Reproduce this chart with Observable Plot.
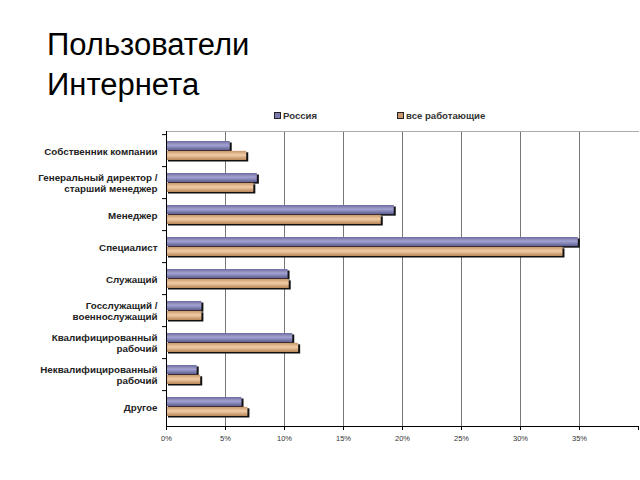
<!DOCTYPE html>
<html>
<head>
<meta charset="utf-8">
<script src="https://cdn.jsdelivr.net/npm/d3@7"></script>
<script src="https://cdn.jsdelivr.net/npm/@observablehq/plot@0.6"></script>
<style>
  html, body { margin: 0; padding: 0; background: #fff; width: 640px; height: 480px; overflow: hidden; }
  #title { position: absolute; left: 47px; top: 25px; font-family: "Liberation Sans", Arial, sans-serif; font-size: 31px; line-height: 40px; color: #000; }
  #legend { position: absolute; top: 110px; left: 0; width: 640px; height: 14px; font-family: "Liberation Sans", Arial, sans-serif; font-size: 9.6px; font-weight: bold; color: #333; }
  .li { position: absolute; display: flex; align-items: center; gap: 2px; }
  .sw { width: 5px; height: 5px; border: 1px solid #222; display: inline-block; }
  #chart { position: absolute; left: 0; top: 105px; }
</style>
</head>
<body>
<div id="title">Пользователи<br>Интернета</div>
<div id="legend"></div>
<div id="chart"></div>
<script>
const categories = [
  "Собственник компании",
  "Генеральный директор /\nстарший менеджер",
  "Менеджер",
  "Специалист",
  "Служащий",
  "Госслужащий /\nвоеннослужащий",
  "Квалифицированный\nрабочий",
  "Неквалифицированный\nрабочий",
  "Другое"
];
const seriesNames = ["Россия", "все работающие"];
const russia = [5.4, 7.7, 19.3, 34.9, 10.3, 3.0, 10.7, 2.6, 6.4];
const allWorking = [6.8, 7.4, 18.2, 33.6, 10.4, 3.0, 11.2, 2.9, 6.9];
const xTicks = [0, 5, 10, 15, 20, 25, 30, 35];
const gridTicks = [5, 10, 15, 20, 25, 30, 35];

const dataR = categories.map((c, i) => ({category: c, value: russia[i]}));
const dataA = categories.map((c, i) => ({category: c, value: allWorking[i]}));

const H = 375, marginTop = 26, marginBottom = 54;
const n = categories.length;
const step = (H - marginTop - marginBottom) / n;
const pIn = 0.4;
const bw = step * (1 - pIn);
const half = bw / 2;

const font = "Liberation Sans, Arial, sans-serif";

const chart = Plot.plot({
  width: 640,
  height: H,
  marginTop,
  marginBottom,
  marginLeft: 166,
  marginRight: 2,
  style: {fontFamily: font, background: "transparent"},
  x: {domain: [0, 40], axis: null, label: null},
  y: {domain: categories, paddingInner: pIn, paddingOuter: pIn / 2, axis: null, label: null},
  marks: [
    Plot.ruleX(gridTicks, {stroke: "#777", strokeWidth: 1}),
    Plot.frame({anchor: "top", stroke: "#aaa"}),
    Plot.barX(dataR, {y: "category", x: "value", fill: "#111", insetBottom: half, dx: 2, dy: 1.5}),
    Plot.barX(dataR, {y: "category", x: "value", fill: "url(#gR)", insetBottom: half}),
    Plot.barX(dataA, {y: "category", x: "value", fill: "#111", insetTop: half, dx: 2, dy: 1.5}),
    Plot.barX(dataA, {y: "category", x: "value", fill: "url(#gA)", insetTop: half}),
    Plot.ruleX([0], {stroke: "#000", strokeWidth: 1}),
    Plot.frame({anchor: "bottom", stroke: "#000"}),
    Plot.axisX({ticks: xTicks, tickFormat: d => d + "%", tickSize: 4, tickPadding: 5, fontSize: 7.5, color: "#333", stroke: "#000", label: null}),
    Plot.axisX({ticks: [40], tickFormat: () => "", tickSize: 4, stroke: "#000", label: null}),
    Plot.axisY({tickSize: 4, tickFormat: () => "", dy: -step / 2, stroke: "#000", label: null}),
    Plot.axisY({tickSize: 0, tickPadding: 9, fontSize: 9.8, fontWeight: "bold", fill: "#222", lineHeight: 1.15, label: null})
  ]
});

const svg = d3.select(chart);
const defs = svg.insert("defs", ":first-child");
const gR = defs.append("linearGradient").attr("id", "gR").attr("x1", 0).attr("y1", 0).attr("x2", 0).attr("y2", 1);
gR.append("stop").attr("offset", "0%").attr("stop-color", "#6b6ba0");
gR.append("stop").attr("offset", "45%").attr("stop-color", "#a3a3d2");
gR.append("stop").attr("offset", "100%").attr("stop-color", "#5c5c90");
const gA = defs.append("linearGradient").attr("id", "gA").attr("x1", 0).attr("y1", 0).attr("x2", 0).attr("y2", 1);
gA.append("stop").attr("offset", "0%").attr("stop-color", "#c8966a");
gA.append("stop").attr("offset", "45%").attr("stop-color", "#f2cda6");
gA.append("stop").attr("offset", "100%").attr("stop-color", "#b8865a");

document.getElementById("chart").appendChild(chart);

const legend = document.getElementById("legend");
const legendPos = [274, 397];
const legendFill = ["#7c7cb0", "#c89a70"];
seriesNames.forEach((s, i) => {
  const d = document.createElement("div");
  d.className = "li";
  d.style.left = legendPos[i] + "px";
  const sw = document.createElement("span");
  sw.className = "sw";
  sw.style.background = legendFill[i];
  const t = document.createElement("span");
  t.textContent = s;
  d.appendChild(sw);
  d.appendChild(t);
  legend.appendChild(d);
});
</script>
</body>
</html>
